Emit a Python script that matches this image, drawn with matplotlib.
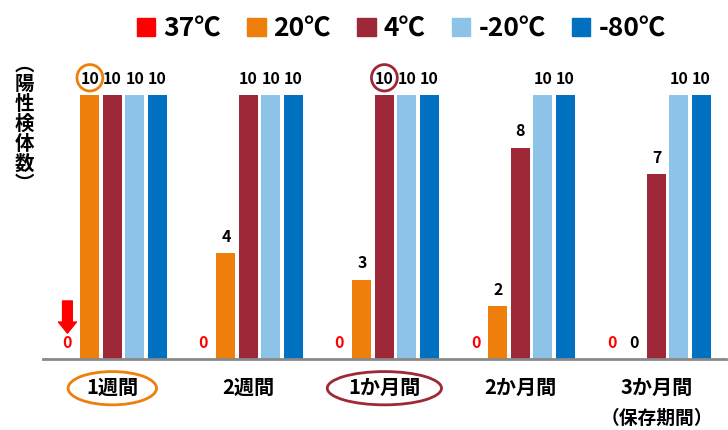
import matplotlib
matplotlib.use("Agg")
import matplotlib.pyplot as plt
import matplotlib.transforms as mtransforms
from matplotlib.patches import Ellipse, Patch
import numpy as np

plt.rcParams["font.family"] = ["Noto Sans CJK JP", "DejaVu Sans"]
plt.rcParams["font.weight"] = "bold"

# ── データ ──
periods = ["1週間", "2週間", "1か月間", "2か月間", "3か月間"]
series_names = ["37℃", "20℃", "4℃", "-20℃", "-80℃"]
series_colors = ["#FF0000", "#EF7F0B", "#9E2837", "#8CC3E6", "#0070C0"]
v_37 = [0, 0, 0, 0, 0]
v_20 = [10, 4, 3, 2, 0]
v_4 = [10, 10, 10, 8, 7]
v_m20 = [10, 10, 10, 10, 10]
v_m80 = [10, 10, 10, 10, 10]
values = [v_37, v_20, v_4, v_m20, v_m80]

fig = plt.figure(figsize=(7.28, 4.30), dpi=100)
ax = fig.add_axes([0.059, 0.165, 0.938, 0.737])

x = np.arange(len(periods))
pitch = 0.165
width = 0.14
for k, (vals, col) in enumerate(zip(values, series_colors)):
    xs = x + (k - 2) * pitch
    ax.bar(xs, vals, width=width, color=col, zorder=2)
    for xi, v in zip(xs, vals):
        ax.annotate(str(v), (xi, v), xytext=(0, 6), textcoords="offset points",
                    ha="center", va="bottom", fontsize=11.5, fontweight="bold",
                    color="#FF0000" if k == 0 else "black")

ax.set_xlim(-0.51, 4.51)
ax.set_ylim(0, 12)
for s in ["top", "right", "left"]:
    ax.spines[s].set_visible(False)
ax.spines["bottom"].set_color("#898989")
ax.spines["bottom"].set_linewidth(2)
ax.set_yticks([])
ax.set_xticks(x)
ax.set_xticklabels(periods, fontsize=14.5, fontweight="bold")
ax.tick_params(axis="x", length=0, pad=13)
blend = mtransforms.blended_transform_factory(ax.transData, ax.transAxes)
ax.text(x[-1], -0.188, "（保存期間）", transform=blend,
        ha="center", va="center", fontsize=13.5, fontweight="bold")

# 縦書きラベル
fig.text(0.034, 0.71, "\n".join("︵陽性検体数︶"), ha="center", va="center",
         fontsize=14, fontweight="bold", linespacing=1.05)

# ── 凡例 ──
handles = [Patch(color=c) for c in series_colors]
fig.legend(handles, series_names, loc="center", bbox_to_anchor=(0.551, 0.933), ncol=5,
           frameon=False, handlelength=0.7, handleheight=0.7,
           handletextpad=0.3, columnspacing=1.0, prop={"weight": "bold", "size": 19})

# ── 強調（丸・矢印）──
ax.add_patch(Ellipse((x[0] - pitch, 10.65), 0.19, 1.0, fill=False,
                     edgecolor=series_colors[1], lw=2, clip_on=False, zorder=3))
ax.add_patch(Ellipse((x[2], 10.65), 0.19, 1.0, fill=False,
                     edgecolor=series_colors[2], lw=2, clip_on=False, zorder=3))
ax.add_patch(Ellipse((x[0], -0.092), 0.65, 0.105, transform=blend, fill=False,
                     edgecolor=series_colors[1], lw=2, clip_on=False))
ax.add_patch(Ellipse((x[2], -0.092), 0.84, 0.105, transform=blend, fill=False,
                     edgecolor=series_colors[2], lw=2, clip_on=False))
ax.annotate("", xy=(x[0] - 2 * pitch, 0.98), xytext=(x[0] - 2 * pitch, 2.2),
            arrowprops=dict(arrowstyle="simple,head_length=0.8,head_width=1.3,tail_width=0.7",
                            color="#FF0000", mutation_scale=10, shrinkA=0, shrinkB=0))

plt.savefig("out.png", dpi=100)
plt.close()
